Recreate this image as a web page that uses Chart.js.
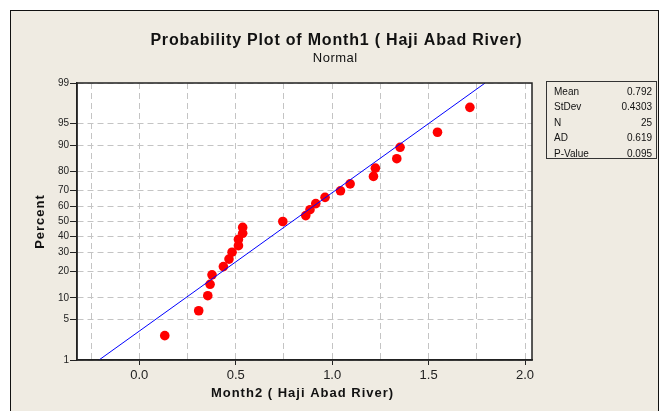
<!DOCTYPE html>
<html>
<head>
<meta charset="UTF-8">
<title>Probability Plot of Month1</title>
<style>
  html, body { margin: 0; padding: 0; background: #fff; }
  #wrap { width: 661px; height: 411px; }
</style>
</head>
<body>
<div id="wrap"><canvas id="chart" width="661" height="411"></canvas></div>
<script src="https://cdn.jsdelivr.net/npm/chart.js"></script>
<script>
// values
const obsX = [0.132, 0.308, 0.355, 0.367, 0.377, 0.436, 0.465, 0.481, 0.514, 0.514,
              0.536, 0.536, 0.744, 0.863, 0.885, 0.915, 0.963, 1.043, 1.093, 1.214,
              1.224, 1.335, 1.352, 1.546, 1.714];
const obsPct = [2.76, 6.69, 10.63, 14.57, 18.50, 22.44, 26.38, 30.31, 34.25, 38.19,
                42.13, 46.06, 50.00, 53.94, 57.87, 61.81, 65.75, 69.69, 73.62, 77.56,
                81.50, 85.43, 89.37, 93.31, 97.24];
const fitX = [-0.209, 1.793];
const fitPct = [1, 99];
const pctTicks = [1, 5, 10, 20, 30, 40, 50, 60, 70, 80, 90, 95, 99];
const xGrid = [-0.25, 0, 0.25, 0.5, 0.75, 1.0, 1.25, 1.5, 1.75, 2.0];
const xLabels = [0, 0.5, 1.0, 1.5, 2.0];
const statNames = ['Mean', 'StDev', 'N', 'AD', 'P-Value'];
const statValues = ['0.792', '0.4303', '25', '0.619', '0.095'];

// inverse normal cdf (Acklam) - percent -> z for the probability axis
function probit(p) {
  const a = [-3.969683028665376e+01, 2.209460984245205e+02, -2.759285104469687e+02, 1.383577518672690e+02, -3.066479806614716e+01, 2.506628277459239e+00];
  const b = [-5.447609879822406e+01, 1.615858368580409e+02, -1.556989798598866e+02, 6.680131188771972e+01, -1.328068155288572e+01];
  const c = [-7.784894002430293e-03, -3.223964580411365e-01, -2.400758277161838e+00, -2.549732539343734e+00, 4.374664141464968e+00, 2.938163982698783e+00];
  const d = [7.784695709041462e-03, 3.224671290700398e-01, 2.445134137142996e+00, 3.754408661907416e+00];
  const pl = 0.02425;
  let q, r;
  if (p < pl) {
    q = Math.sqrt(-2 * Math.log(p));
    return (((((c[0]*q+c[1])*q+c[2])*q+c[3])*q+c[4])*q+c[5]) / ((((d[0]*q+d[1])*q+d[2])*q+d[3])*q+1);
  }
  if (p > 1 - pl) {
    q = Math.sqrt(-2 * Math.log(1 - p));
    return -(((((c[0]*q+c[1])*q+c[2])*q+c[3])*q+c[4])*q+c[5]) / ((((d[0]*q+d[1])*q+d[2])*q+d[3])*q+1);
  }
  q = p - 0.5; r = q * q;
  return (((((a[0]*r+a[1])*r+a[2])*r+a[3])*r+a[4])*r+a[5])*q / (((((b[0]*r+b[1])*r+b[2])*r+b[3])*r+b[4])*r+1);
}
const z = pct => probit(pct / 100);
const zTicks = pctTicks.map(z);
const FONT = '"Liberation Sans", Arial, sans-serif';

function spaced(c, text, x, y, spacing) {
  c.letterSpacing = spacing + 'px';
  // trailing spacing shifts centred text, compensate
  c.fillText(text, x + spacing / 2, y);
  c.letterSpacing = '0px';
}

const panel = {
  id: 'panel',
  beforeDraw(chart) {
    const c = chart.ctx;
    c.save();
    c.fillStyle = '#fff';
    c.fillRect(0, 0, chart.width, chart.height);
    c.fillStyle = '#efebe2';
    c.fillRect(10, 10, 648, 410);
    c.strokeStyle = '#111';
    c.lineWidth = 1;
    c.strokeRect(10.5, 10.5, 648, 410);
    const a = chart.chartArea;
    c.fillStyle = '#fff';
    c.fillRect(a.left, a.top, a.right - a.left, a.bottom - a.top);
    c.restore();
  },
  afterDraw(chart) {
    const c = chart.ctx;
    const a = chart.chartArea;
    c.save();
    c.strokeStyle = '#222';
    c.lineWidth = 1.5;
    c.strokeRect(a.left, a.top, a.right - a.left, a.bottom - a.top);

    c.fillStyle = '#111';
    c.textAlign = 'center';
    c.textBaseline = 'middle';
    c.font = 'bold 16px ' + FONT;
    spaced(c, 'Probability Plot of Month1 ( Haji Abad River)', 336, 41, 0.8);
    c.font = '13px ' + FONT;
    spaced(c, 'Normal', 335, 58, 0.5);

    c.font = 'bold 13px ' + FONT;
    spaced(c, 'Month2 ( Haji Abad River)', 302, 393, 1);
    c.save();
    c.translate(40, 222);
    c.rotate(-Math.PI / 2);
    spaced(c, 'Percent', 0, 0, 1);
    c.restore();

    // stats box
    c.fillStyle = '#efebe2';
    c.fillRect(546, 81, 110, 77);
    c.strokeStyle = '#333';
    c.lineWidth = 1;
    c.strokeRect(546.5, 81.5, 110, 77);
    c.font = '10px ' + FONT;
    c.fillStyle = '#111';
    statNames.forEach((n, i) => {
      const y = 92 + i * 15.5;
      c.textAlign = 'left';
      c.fillText(n, 554, y);
      c.textAlign = 'right';
      c.fillText(statValues[i], 652, y);
    });
    c.restore();
  }
};

new Chart(document.getElementById('chart'), {
  type: 'scatter',
  data: {
    datasets: [
      {
        type: 'line',
        data: fitX.map((x, i) => ({ x: x, y: z(fitPct[i]) })),
        borderColor: '#0000ff',
        borderWidth: 1,
        pointRadius: 0,
        fill: false
      },
      {
        data: obsX.map((x, i) => ({ x: x, y: z(obsPct[i]) })),
        backgroundColor: '#ff0000',
        borderColor: '#ff0000',
        borderWidth: 0,
        pointRadius: 4.8
      }
    ]
  },
  options: {
    responsive: false,
    animation: false,
    devicePixelRatio: 1,
    layout: { padding: { left: 37, top: 83, right: 129, bottom: 0 } },
    plugins: { legend: { display: false }, tooltip: { enabled: false } },
    scales: {
      x: {
        type: 'linear',
        min: -0.323,
        max: 2.036,
        afterBuildTicks: s => { s.ticks = xGrid.map(v => ({ value: v })); },
        afterFit: s => { s.height = 51; },
        grid: {
          color: '#c4c4c4',
          lineWidth: 1,
          tickLength: 5,
          tickColor: ctx => (ctx.tick && xLabels.some(v => Math.abs(v - ctx.tick.value) < 1e-9)) ? '#222' : 'rgba(0,0,0,0)'
        },
        border: { display: true, color: '#222', width: 1.5, dash: [6, 4] },
        ticks: {
          autoSkip: false,
          maxRotation: 0,
          padding: 3,
          color: '#222',
          font: { family: FONT, size: 13 },
          callback: v => xLabels.some(t => Math.abs(t - v) < 1e-9) ? v.toFixed(1) : ''
        }
      },
      y: {
        type: 'linear',
        min: z(1),
        max: z(99),
        afterBuildTicks: s => { s.ticks = zTicks.map(v => ({ value: v })); },
        afterFit: s => { s.width = 40; },
        grid: { color: '#c4c4c4', lineWidth: 1, tickLength: 7, tickColor: '#222' },
        border: { display: true, color: '#222', width: 1.5, dash: [6, 4] },
        ticks: {
          autoSkip: false,
          padding: 1,
          color: '#222',
          font: { family: FONT, size: 10 },
          callback: (v, i) => String(pctTicks[i])
        }
      }
    }
  },
  plugins: [panel]
});
</script>
</body>
</html>
